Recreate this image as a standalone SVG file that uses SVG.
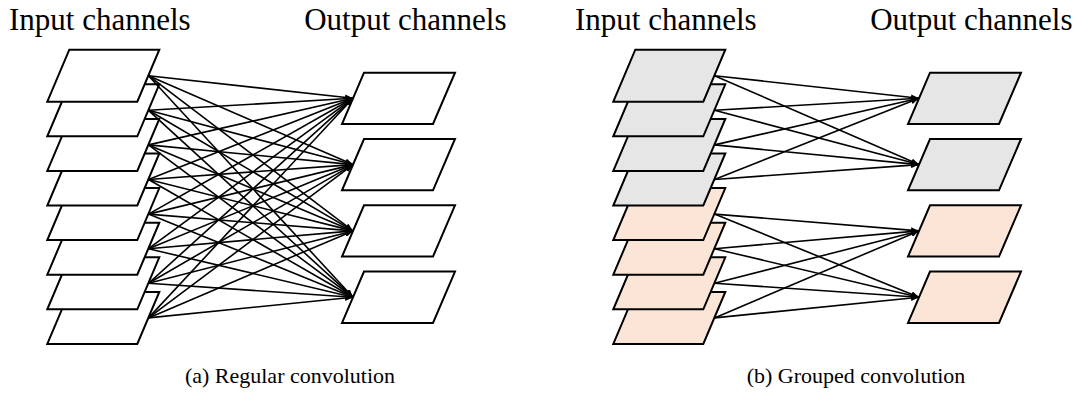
<svg xmlns="http://www.w3.org/2000/svg" width="1080" height="394" viewBox="0 0 1080 394">
  <style>
    .title { font-size: 31px; fill: #000; }
    .caption { font-size: 22px; fill: #000; text-anchor: middle; }
    .ch { stroke: #000; stroke-width: 2; stroke-linejoin: miter; }
    .plain { fill: #ffffff; }
    .grey { fill: #e7e6e6; }
    .peach { fill: #fbe5d6; }
    .link { stroke: #000; stroke-width: 1.6; fill: none; marker-end: url(#arrow); }
  </style>
  <defs>
    <marker id="arrow" viewBox="0 0 8 6" refX="8" refY="3" markerWidth="8" markerHeight="6" markerUnits="userSpaceOnUse" orient="auto">
      <path d="M0,0 L8,3 L0,6 z" fill="#000"/>
    </marker>
  </defs>

  <rect width="1080" height="394" fill="#ffffff"/>

  <!-- Headings -->
  <g font-family="'Liberation Serif', 'Times New Roman', Times, 'DejaVu Serif', serif">
    <text class="title" x="9" y="30">Input channels</text>
    <text class="title" x="506.5" y="30" text-anchor="end">Output channels</text>
    <text class="title" x="575" y="30">Input channels</text>
    <text class="title" x="1072.5" y="30" text-anchor="end">Output channels</text>
  </g>

  <!-- (a) Regular convolution: input stack, drawn bottom-up so upper sheets overlap lower ones -->
  <g id="a-in-7"><polygon class="ch plain" points="69.3,291.9 159.3,291.9 137.3,343.9 47.3,343.9"/></g>
  <g id="a-in-6"><polygon class="ch plain" points="69.3,257.3 159.3,257.3 137.3,309.3 47.3,309.3"/></g>
  <g id="a-in-5"><polygon class="ch plain" points="69.3,222.7 159.3,222.7 137.3,274.7 47.3,274.7"/></g>
  <g id="a-in-4"><polygon class="ch plain" points="69.3,188.1 159.3,188.1 137.3,240.1 47.3,240.1"/></g>
  <g id="a-in-3"><polygon class="ch plain" points="69.3,153.5 159.3,153.5 137.3,205.5 47.3,205.5"/></g>
  <g id="a-in-2"><polygon class="ch plain" points="69.3,118.9 159.3,118.9 137.3,170.9 47.3,170.9"/></g>
  <g id="a-in-1"><polygon class="ch plain" points="69.3,84.3 159.3,84.3 137.3,136.3 47.3,136.3"/></g>
  <g id="a-in-0"><polygon class="ch plain" points="69.3,49.7 159.3,49.7 137.3,101.7 47.3,101.7"/></g>

  <!-- (a) output channels -->
  <g id="a-out-0"><polygon class="ch plain" points="364,72.7 455,72.7 433,124 342,124"/></g>
  <g id="a-out-1"><polygon class="ch plain" points="364,139 455,139 433,190.3 342,190.3"/></g>
  <g id="a-out-2"><polygon class="ch plain" points="364,205.3 455,205.3 433,256.6 342,256.6"/></g>
  <g id="a-out-3"><polygon class="ch plain" points="364,271.6 455,271.6 433,322.9 342,322.9"/></g>

  <!-- (b) Grouped convolution: input stack -->
  <g id="b-in-7"><polygon class="ch peach" points="635.3,291.9 725.3,291.9 703.3,343.9 613.3,343.9"/></g>
  <g id="b-in-6"><polygon class="ch peach" points="635.3,257.3 725.3,257.3 703.3,309.3 613.3,309.3"/></g>
  <g id="b-in-5"><polygon class="ch peach" points="635.3,222.7 725.3,222.7 703.3,274.7 613.3,274.7"/></g>
  <g id="b-in-4"><polygon class="ch peach" points="635.3,188.1 725.3,188.1 703.3,240.1 613.3,240.1"/></g>
  <g id="b-in-3"><polygon class="ch grey" points="635.3,153.5 725.3,153.5 703.3,205.5 613.3,205.5"/></g>
  <g id="b-in-2"><polygon class="ch grey" points="635.3,118.9 725.3,118.9 703.3,170.9 613.3,170.9"/></g>
  <g id="b-in-1"><polygon class="ch grey" points="635.3,84.3 725.3,84.3 703.3,136.3 613.3,136.3"/></g>
  <g id="b-in-0"><polygon class="ch grey" points="635.3,49.7 725.3,49.7 703.3,101.7 613.3,101.7"/></g>

  <!-- (b) output channels -->
  <g id="b-out-0"><polygon class="ch grey" points="930,72.7 1021,72.7 999,124 908,124"/></g>
  <g id="b-out-1"><polygon class="ch grey" points="930,139 1021,139 999,190.3 908,190.3"/></g>
  <g id="b-out-2"><polygon class="ch peach" points="930,205.3 1021,205.3 999,256.6 908,256.6"/></g>
  <g id="b-out-3"><polygon class="ch peach" points="930,271.6 1021,271.6 999,322.9 908,322.9"/></g>

  <!-- Connectors: every input to every output in (a); per group in (b) -->
  <g id="connectors">
    <line class="link" x1="148.5" y1="75.7" x2="353" y2="98.3"/>
    <line class="link" x1="148.5" y1="75.7" x2="353" y2="164.6"/>
    <line class="link" x1="148.5" y1="75.7" x2="353" y2="230.9"/>
    <line class="link" x1="148.5" y1="75.7" x2="353" y2="297.2"/>
    <line class="link" x1="148.5" y1="110.3" x2="353" y2="98.3"/>
    <line class="link" x1="148.5" y1="110.3" x2="353" y2="164.6"/>
    <line class="link" x1="148.5" y1="110.3" x2="353" y2="230.9"/>
    <line class="link" x1="148.5" y1="110.3" x2="353" y2="297.2"/>
    <line class="link" x1="148.5" y1="144.9" x2="353" y2="98.3"/>
    <line class="link" x1="148.5" y1="144.9" x2="353" y2="164.6"/>
    <line class="link" x1="148.5" y1="144.9" x2="353" y2="230.9"/>
    <line class="link" x1="148.5" y1="144.9" x2="353" y2="297.2"/>
    <line class="link" x1="148.5" y1="179.5" x2="353" y2="98.3"/>
    <line class="link" x1="148.5" y1="179.5" x2="353" y2="164.6"/>
    <line class="link" x1="148.5" y1="179.5" x2="353" y2="230.9"/>
    <line class="link" x1="148.5" y1="179.5" x2="353" y2="297.2"/>
    <line class="link" x1="148.5" y1="214.1" x2="353" y2="98.3"/>
    <line class="link" x1="148.5" y1="214.1" x2="353" y2="164.6"/>
    <line class="link" x1="148.5" y1="214.1" x2="353" y2="230.9"/>
    <line class="link" x1="148.5" y1="214.1" x2="353" y2="297.2"/>
    <line class="link" x1="148.5" y1="248.7" x2="353" y2="98.3"/>
    <line class="link" x1="148.5" y1="248.7" x2="353" y2="164.6"/>
    <line class="link" x1="148.5" y1="248.7" x2="353" y2="230.9"/>
    <line class="link" x1="148.5" y1="248.7" x2="353" y2="297.2"/>
    <line class="link" x1="148.5" y1="283.3" x2="353" y2="98.3"/>
    <line class="link" x1="148.5" y1="283.3" x2="353" y2="164.6"/>
    <line class="link" x1="148.5" y1="283.3" x2="353" y2="230.9"/>
    <line class="link" x1="148.5" y1="283.3" x2="353" y2="297.2"/>
    <line class="link" x1="148.5" y1="317.9" x2="353" y2="98.3"/>
    <line class="link" x1="148.5" y1="317.9" x2="353" y2="164.6"/>
    <line class="link" x1="148.5" y1="317.9" x2="353" y2="230.9"/>
    <line class="link" x1="148.5" y1="317.9" x2="353" y2="297.2"/>

    <line class="link" x1="714.5" y1="75.7" x2="919" y2="98.3"/>
    <line class="link" x1="714.5" y1="75.7" x2="919" y2="164.6"/>
    <line class="link" x1="714.5" y1="110.3" x2="919" y2="98.3"/>
    <line class="link" x1="714.5" y1="110.3" x2="919" y2="164.6"/>
    <line class="link" x1="714.5" y1="144.9" x2="919" y2="98.3"/>
    <line class="link" x1="714.5" y1="144.9" x2="919" y2="164.6"/>
    <line class="link" x1="714.5" y1="179.5" x2="919" y2="98.3"/>
    <line class="link" x1="714.5" y1="179.5" x2="919" y2="164.6"/>
    <line class="link" x1="714.5" y1="214.1" x2="919" y2="230.9"/>
    <line class="link" x1="714.5" y1="214.1" x2="919" y2="297.2"/>
    <line class="link" x1="714.5" y1="248.7" x2="919" y2="230.9"/>
    <line class="link" x1="714.5" y1="248.7" x2="919" y2="297.2"/>
    <line class="link" x1="714.5" y1="283.3" x2="919" y2="230.9"/>
    <line class="link" x1="714.5" y1="283.3" x2="919" y2="297.2"/>
    <line class="link" x1="714.5" y1="317.9" x2="919" y2="230.9"/>
    <line class="link" x1="714.5" y1="317.9" x2="919" y2="297.2"/>
  </g>

  <!-- Captions -->
  <g font-family="'Liberation Serif', 'Times New Roman', Times, 'DejaVu Serif', serif">
    <text class="caption" x="290" y="383">(a) Regular convolution</text>
    <text class="caption" x="856" y="383">(b) Grouped convolution</text>
  </g>
</svg>
